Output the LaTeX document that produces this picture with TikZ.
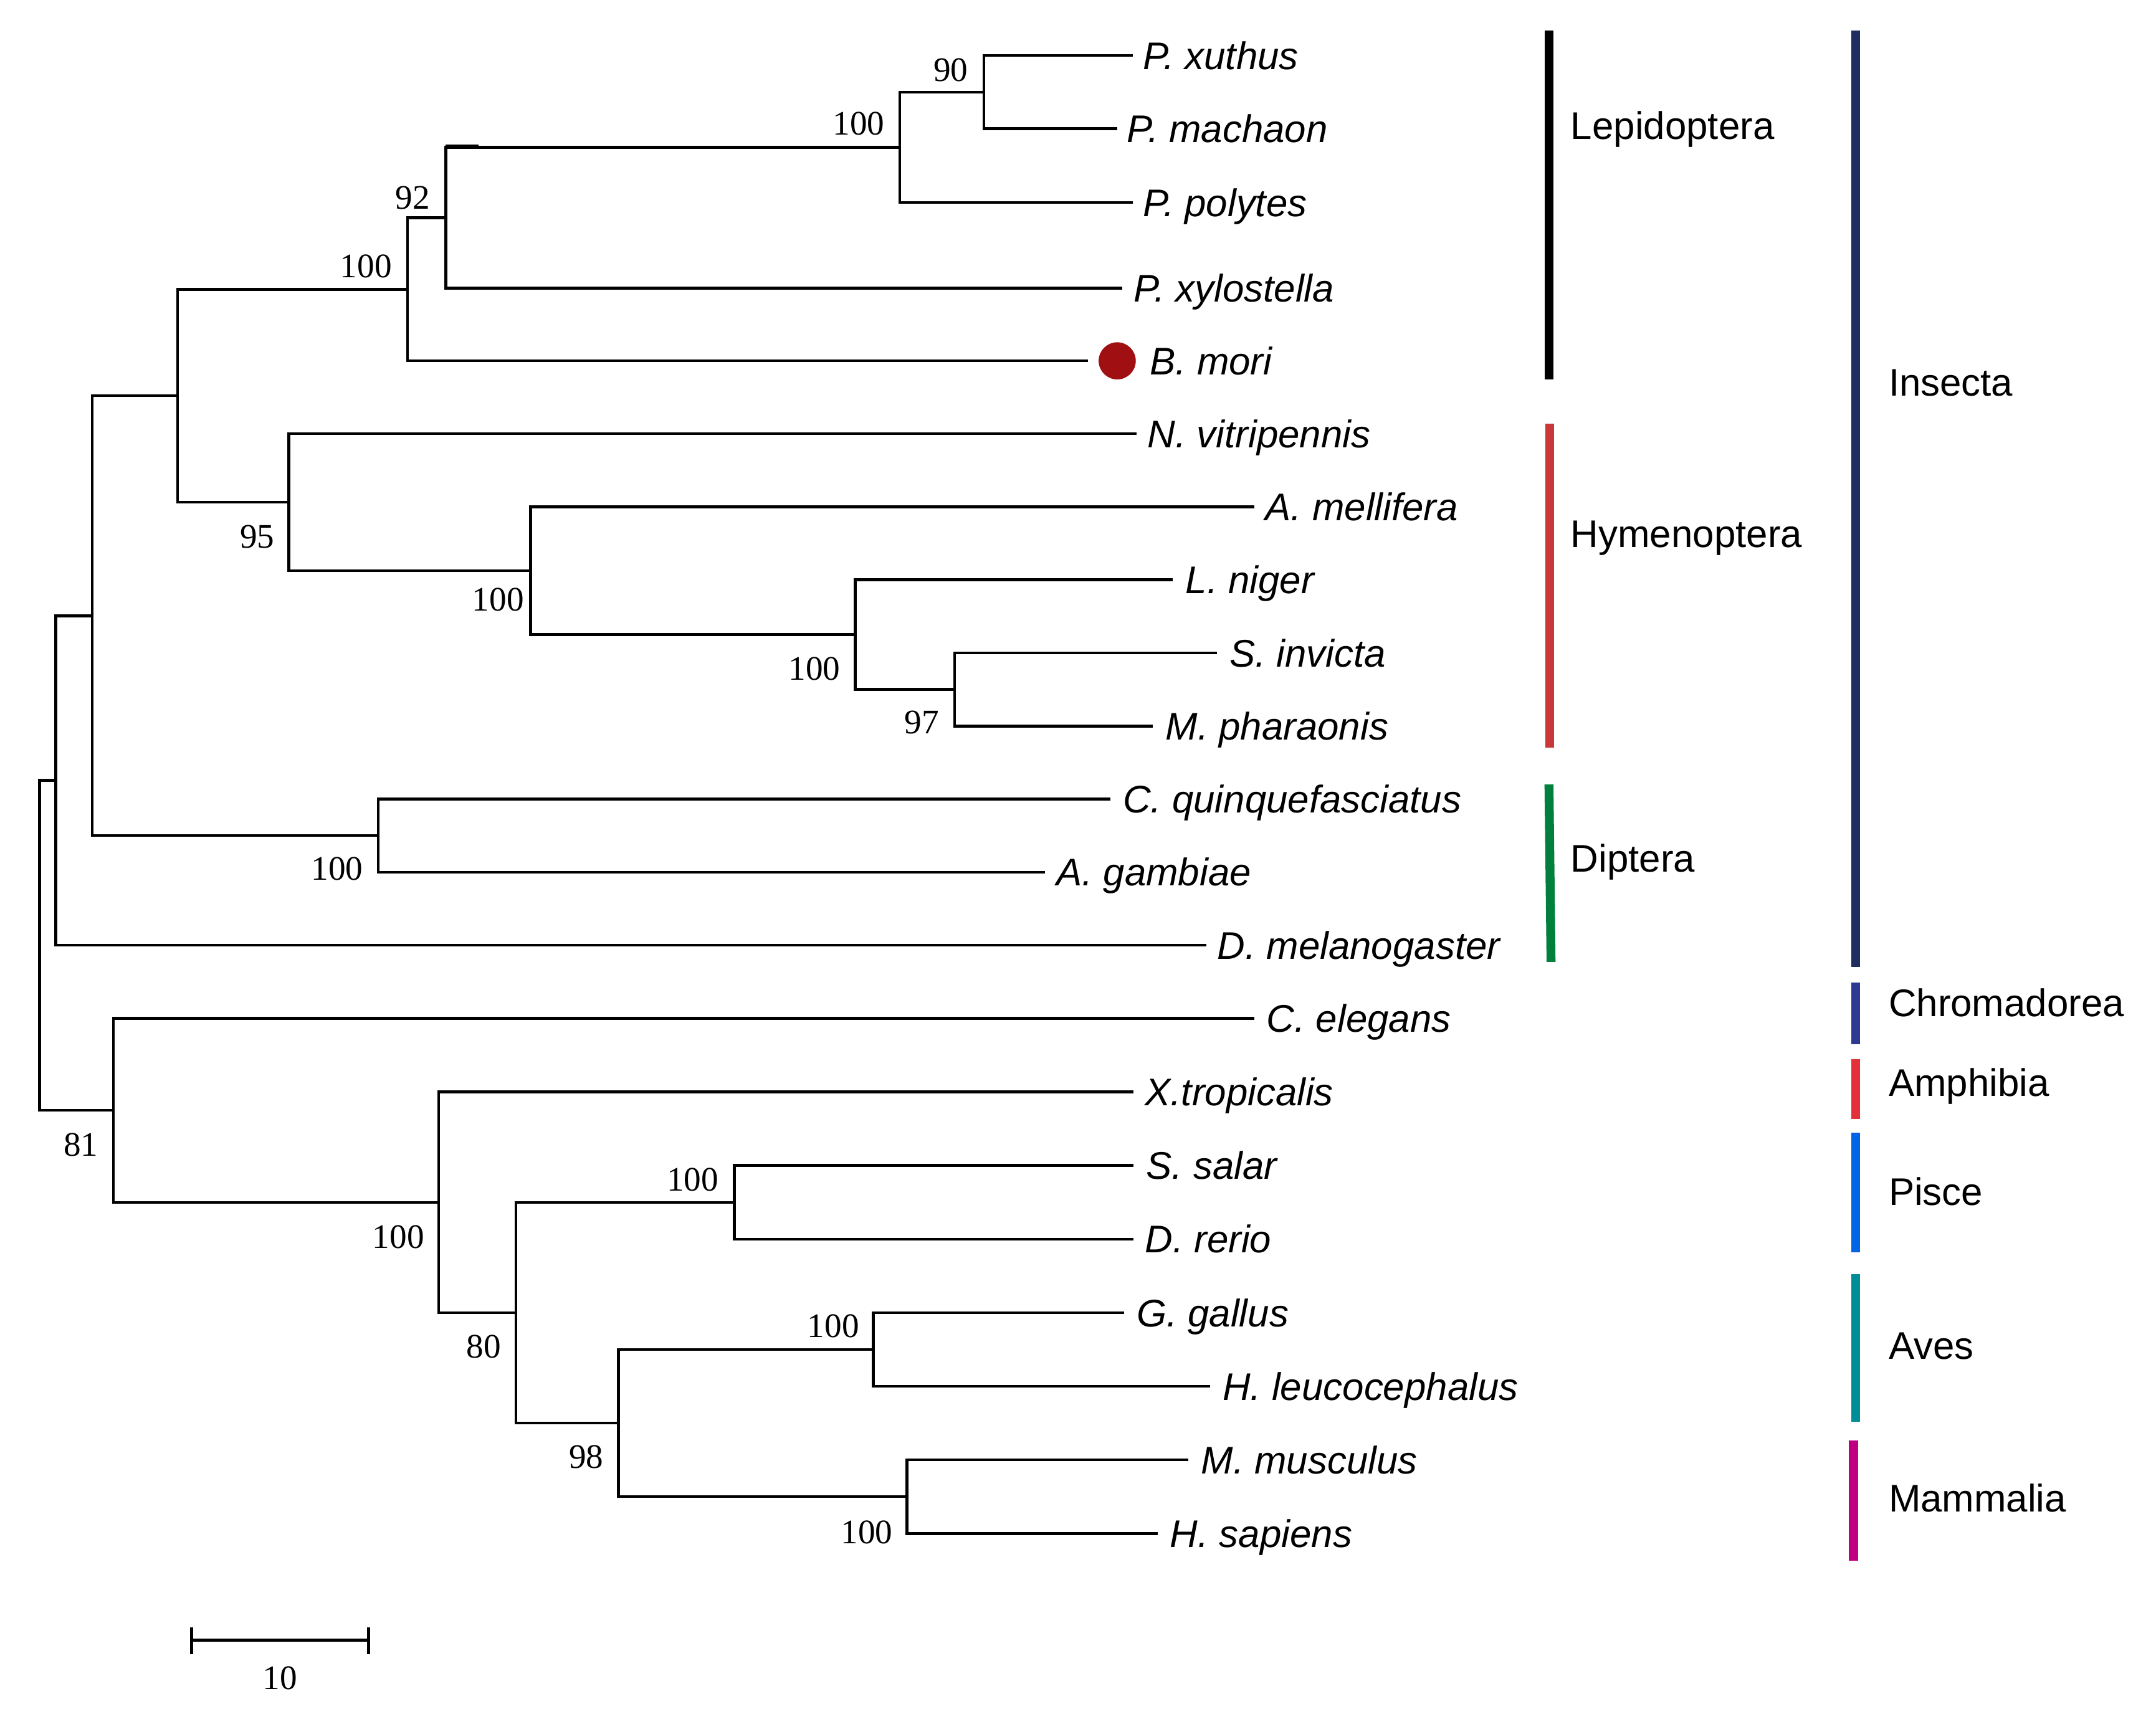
\documentclass[tikz,border=0pt]{standalone}
\usepackage{fontspec}
\setmainfont{Liberation Serif}
\newfontfamily\arialf{Liberation Sans}
\usetikzlibrary{calc}
\definecolor{lepcol}{RGB}{0,0,0}
\definecolor{hymcol}{RGB}{200,56,58}
\definecolor{dipcol}{RGB}{0,128,60}
\definecolor{inscol}{RGB}{31,45,95}
\definecolor{chrcol}{RGB}{46,58,146}
\definecolor{amphcol}{RGB}{228,48,56}
\definecolor{piscol}{RGB}{0,100,230}
\definecolor{avecol}{RGB}{0,142,150}
\definecolor{mamcol}{RGB}{190,0,128}
\definecolor{moricol}{RGB}{160,16,18}
\tikzset{
  branch/.style={line width=2pt, line join=miter},
  sp/.style={anchor=base west, inner sep=0pt, font=\arialf\itshape\fontsize{28}{32}\selectfont},
  bs/.style={anchor=center, inner sep=0pt, font=\fontsize{25}{29}\selectfont},
  grp/.style={anchor=base west, inner sep=0pt, font=\arialf\fontsize{28}{32}\selectfont},
  gbar/.style={line width=6.5pt}
}
\begin{document}
\begin{tikzpicture}[x=1pt,y=-1pt]
\useasboundingbox[fill=white] (0,0) rectangle (1567,1242);
% leaves
\coordinate (xu) at (823.4,40.4);
\coordinate (ma) at (812,93.6);
\coordinate (po) at (823.4,147.2);
\coordinate (xy) at (815.7,209.5);
\coordinate (mo) at (790.6,262.3);
\coordinate (vi) at (826,315.2);
\coordinate (me) at (911.5,368.4);
\coordinate (ni) at (852.5,421.5);
\coordinate (inv) at (884.5,474.6);
\coordinate (ph) at (838,527.8);
\coordinate (cq) at (807,580.9);
\coordinate (ag) at (759.5,634);
\coordinate (dm) at (876.6,687.1);
\coordinate (ce) at (911.5,740.2);
\coordinate (xt) at (824,793.7);
\coordinate (ss) at (824,847.2);
\coordinate (dr) at (824,900.7);
\coordinate (gg) at (816.9,954.2);
\coordinate (hl) at (879.5,1007.7);
\coordinate (mm) at (863.8,1061.2);
\coordinate (hs) at (841.3,1114.7);
% internal nodes
\coordinate (nA) at (715.1,67);
\coordinate (nB) at (653.9,107.1);
\coordinate (nC) at (324,158.3);
\coordinate (nD) at (296.3,210.3);
\coordinate (nH) at (693.7,501.2);
\coordinate (nG) at (621.6,461.35);
\coordinate (nF) at (385.7,414.9);
\coordinate (nE) at (210,365.05);
\coordinate (nI) at (129,287.7);
\coordinate (nJ) at (274.8,607.45);
\coordinate (nK) at (66.9,447.6);
\coordinate (nL) at (40.5,567.3);
\coordinate (nP) at (533.7,873.95);
\coordinate (nR) at (634.7,980.95);
\coordinate (nS) at (659.2,1087.95);
\coordinate (nQ) at (449.4,1034.45);
\coordinate (nO) at (375,954.2);
\coordinate (nN) at (318.8,873.95);
\coordinate (nM) at (82.5,807.1);
\coordinate (root) at (28.8,687.2);
% branches
\draw[branch] (xu) -| (nA) |- (ma);
\draw[branch] (nA) -| (nB) |- (po);
\draw[branch] (nB) -| (nC) |- (xy);
\draw[branch] (nC) -| (nD) |- (mo);
\draw[branch] (inv) -| (nH) |- (ph);
\draw[branch] (ni) -| (nG) |- (nH);
\draw[branch] (me) -| (nF) |- (nG);
\draw[branch] (vi) -| (nE) |- (nF);
\draw[branch] (nD) -| (nI) |- (nE);
\draw[branch] (cq) -| (nJ) |- (ag);
\draw[branch] (nI) -| (nK) |- (nJ);
\draw[branch] (nK) -| (nL) |- (dm);
\draw[branch] (ss) -| (nP) |- (dr);
\draw[branch] (gg) -| (nR) |- (hl);
\draw[branch] (mm) -| (nS) |- (hs);
\draw[branch] (nR) -| (nQ) |- (nS);
\draw[branch] (nP) -| (nO) |- (nQ);
\draw[branch] (xt) -| (nN) |- (nO);
\draw[branch] (ce) -| (nM) |- (nN);
\draw[branch] (nL) -| (root) |- (nM);
\coordinate (stub) at ($(nC |- nB)+(0,-1)$);
\draw[branch] (stub) -- ++(24,0);
% B. mori marker
\fill[moricol] ($(mo)+(21.4,0)$) circle (13.5);
% species labels
\node[sp] (Lxu) at ($(xu)+(7,10)$) {P. xuthus};
\node[sp] (Lma) at ($(ma)+(7,10)$) {P. machaon};
\node[sp] (Lpo) at ($(po)+(7,10)$) {P. polytes};
\node[sp] (Lxy) at ($(xy)+(8,10)$) {P. xylostella};
\node[sp] (Lmo) at ($(mo)+(45,10)$) {B. mori};
\node[sp] (Lvi) at ($(vi)+(8,10)$) {N. vitripennis};
\node[sp] (Lme) at ($(me)+(8,10)$) {A. mellifera};
\node[sp] (Lni) at ($(ni)+(9,10)$) {L. niger};
\node[sp] (Lin) at ($(inv)+(9,10)$) {S. invicta};
\node[sp] (Lph) at ($(ph)+(9,10)$) {M. pharaonis};
\node[sp] (Lcq) at ($(cq)+(9,10)$) {C. quinquefasciatus};
\node[sp] (Lag) at ($(ag)+(8,10)$) {A. gambiae};
\node[sp] (Ldm) at ($(dm)+(8,10)$) {D. melanogaster};
\node[sp] (Lce) at ($(ce)+(9,10)$) {C. elegans};
\node[sp] (Lxt) at ($(xt)+(8,10)$) {X.tropicalis};
\node[sp] (Lss) at ($(ss)+(9,10)$) {S. salar};
\node[sp] (Ldr) at ($(dr)+(8,10)$) {D. rerio};
\node[sp] (Lgg) at ($(gg)+(9,10)$) {G. gallus};
\node[sp] (Lhl) at ($(hl)+(9,10)$) {H. leucocephalus};
\node[sp] (Lmm) at ($(mm)+(9,10)$) {M. musculus};
\node[sp] (Lhs) at ($(hs)+(9,10)$) {H. sapiens};
% bootstrap values
\node[bs] (b90) at (691,51) {90};
\node[bs] (bB) at (624,90) {100};
\node[bs] (b92) at (300,143.6) {92};
\node[bs] (bD) at (266,193.6) {100};
\node[bs] (b95) at (187,390) {95};
\node[bs] (bF) at (362,436) {100};
\node[bs] (bG) at (592,486) {100};
\node[bs] (b97) at (670,525) {97};
\node[bs] (bJ) at (245,631.5) {100};
\node[bs] (b81) at (58.7,832) {81};
\node[bs] (bN) at (289.5,899) {100};
\node[bs] (bP) at (503.4,857.6) {100};
\node[bs] (b80) at (351.7,979) {80};
\node[bs] (b98) at (426,1059) {98};
\node[bs] (bR) at (605.6,964) {100};
\node[bs] (bS) at (630,1113.7) {100};
% scale bar
\coordinate (sb1) at (139.3,1192.3);
\coordinate (sb2) at (267.8,1192.3);
\draw[branch] (sb1) -- (sb2);
\draw[branch] ($(sb1)+(0,-9.5)$) -- ($(sb1)+(0,10)$);
\draw[branch] ($(sb2)+(0,-9.5)$) -- ($(sb2)+(0,10)$);
\node[bs] (sbl) at (203.6,1220) {10};
% group bars
\coordinate (lep1) at (1125.9,22.2); \coordinate (lep2) at (1125.9,276);
\coordinate (hym1) at (1126.3,308); \coordinate (hym2) at (1126.3,543.5);
\coordinate (dip1) at (1125.8,570.2); \coordinate (dip2) at (1127.3,699.2);
\coordinate (ins1) at (1348.7,22.2); \coordinate (ins2) at (1348.7,703);
\coordinate (chr1) at (1348.8,714.2); \coordinate (chr2) at (1348.8,759);
\coordinate (amp1) at (1348.8,769.8); \coordinate (amp2) at (1348.8,813.6);
\coordinate (pis1) at (1348.8,823.3); \coordinate (pis2) at (1348.8,910.1);
\coordinate (ave1) at (1348.8,926); \coordinate (ave2) at (1348.8,1033.4);
\coordinate (mam1) at (1347.1,1047); \coordinate (mam2) at (1347.1,1134.3);
\draw[gbar, lepcol] (lep1) -- (lep2);
\draw[gbar, hymcol] (hym1) -- (hym2);
\draw[gbar, dipcol] (dip1) -- (dip2);
\draw[gbar, inscol] (ins1) -- (ins2);
\draw[gbar, chrcol] (chr1) -- (chr2);
\draw[gbar, amphcol] (amp1) -- (amp2);
\draw[gbar, piscol] (pis1) -- (pis2);
\draw[gbar, avecol] (ave1) -- (ave2);
\draw[gbar, mamcol] (mam1) -- (mam2);
% group labels
\node[grp] (gLep) at (1141.5,101) {Lepidoptera};
\node[grp] (gHym) at (1141.5,398) {Hymenoptera};
\node[grp] (gDip) at (1141.5,634) {Diptera};
\node[grp] (gIns) at (1372.5,288) {Insecta};
\node[grp] (gChr) at (1372.5,738.8) {Chromadorea};
\node[grp] (gAmp) at (1372.5,797) {Amphibia};
\node[grp] (gPis) at (1372.5,876) {Pisce};
\node[grp] (gAve) at (1372.5,988) {Aves};
\node[grp] (gMam) at (1372.5,1099) {Mammalia};
\end{tikzpicture}
\end{document}
